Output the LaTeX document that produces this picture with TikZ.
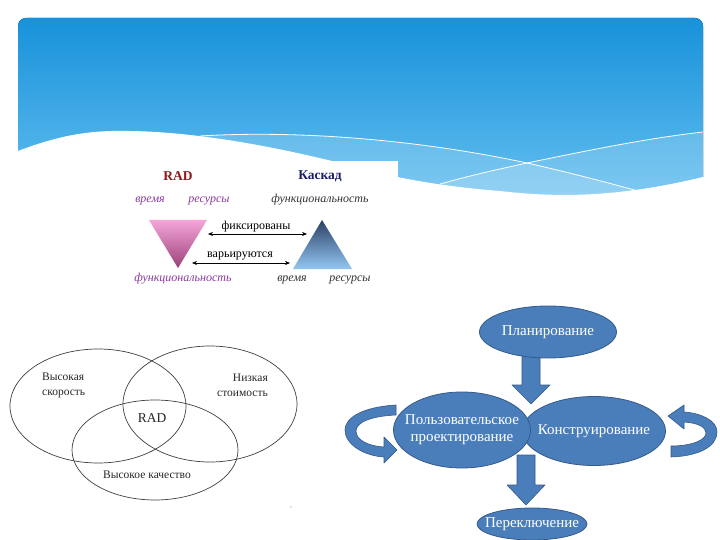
\documentclass[tikz,border=0pt]{standalone}
\usepackage{fontspec}
\setmainfont{Liberation Serif}
\usetikzlibrary{arrows.meta,shapes.geometric}
\definecolor{bantop}{HTML}{1892DA}
\definecolor{banbot}{HTML}{66C0F0}
\definecolor{nodeblue}{HTML}{4A7EBB}
\definecolor{nodeline}{HTML}{34598A}
\definecolor{radred}{HTML}{8B1A1A}
\definecolor{kasblue}{HTML}{1C1C6B}
\definecolor{purp}{HTML}{8A3A9E}
\definecolor{pinktop}{HTML}{F4A6D8}
\definecolor{pinkbot}{HTML}{9C4079}
\definecolor{bluetop}{HTML}{2D4166}
\definecolor{bluebot}{HTML}{92C6F2}
\definecolor{vennline}{HTML}{404040}
\tikzset{
  radtitle/.style={font=\bfseries\fontsize{13.5}{15}\selectfont},
  ital/.style={font=\itshape\fontsize{12}{13}\selectfont, inner sep=0pt},
  lbl/.style={font=\fontsize{12}{13}\selectfont, inner sep=0pt},
  dblarr/.style={{Stealth[length=5pt,width=4pt]}-{Stealth[length=5pt,width=4pt]}, line width=0.7pt},
  vennell/.style={ellipse, draw=vennline, line width=0.7pt, inner sep=0pt},
  venntxt/.style={font=\fontsize{11.5}{15}\selectfont, text=black!85, align=center, inner sep=0pt},
  bubble/.style={ellipse, draw=nodeline, fill=nodeblue, line width=0.8pt, inner sep=0pt},
  btext/.style={text=white, font=\fontsize{15}{17}\selectfont, align=center, inner sep=0pt},
  blockarrow/.style={fill=nodeblue, draw=nodeline, line width=0.6pt, line join=round},
}
\begin{document}
\begin{tikzpicture}[x=1pt,y=-1pt]
\useasboundingbox (0,0) rectangle (720,540);
\fill[white] (0,0) rectangle (720,540);
% banner
\fill[top color=bantop, bottom color=banbot, rounded corners=8pt] (18,18) rectangle (703,205);
\begin{scope}
  \clip (18,18) rectangle (703,205);
  \fill[white, opacity=0.17] (200,136) .. controls (300,130) and (420,140) .. (527,163)
     .. controls (580,175) and (620,186) .. (645,193) -- (645,260) -- (200,260) -- cycle;
  \fill[white, opacity=0.17] (440,184) .. controls (480,173) and (500,169) .. (527,163)
     .. controls (600,148) and (650,138) .. (703,132) -- (703,260) -- (440,260) -- cycle;
  \draw[white, line width=0.8pt] (200,136) .. controls (300,130) and (420,140) .. (527,163)
     .. controls (580,175) and (620,186) .. (645,193);
  \draw[white, line width=0.8pt] (440,184) .. controls (480,173) and (500,169) .. (527,163)
     .. controls (600,148) and (650,138) .. (703,132);
\end{scope}
\fill[white] (0,151) -- (18,151) .. controls (60,135) and (90,130) .. (130,131)
   .. controls (200,132) and (280,148) .. (340,163)
   .. controls (400,180) and (450,187) .. (500,191)
   .. controls (560,198) and (620,197) .. (703,177) -- (720,177) -- (720,215) -- (0,215) -- cycle;
% RAD vs cascade picture
\fill[white] (120,161) rectangle (398,300);
\node[radtitle, text=radred] (rad) at (178,176) {RAD};
\node[radtitle, text=kasblue] (kas) at (320,176) {Каскад};
\node[ital, text=purp] (t1) at (150,201) {время};
\node[ital, text=purp] (t2) at (209,201) {ресурсы};
\node[ital, text=black!80] (t3) at (320,200) {функциональность};
\shade[top color=pinktop, bottom color=pinkbot] (149,220) -- (207,220) -- (178,268) -- cycle;
\shade[top color=bluetop, bottom color=bluebot] (322,220) -- (352,269) -- (293,269) -- cycle;
\coordinate (f1) at (208,234);
\coordinate (f2) at (307,234);
\coordinate (v1) at (192,263);
\coordinate (v2) at (290,263);
\draw[dblarr] (f1) -- (f2);
\draw[dblarr] (v1) -- (v2);
\node[lbl] (fix) at (256,227) {фиксированы};
\node[lbl] (var) at (240,256) {варьируются};
\node[ital, text=purp] (b1) at (183,279) {функциональность};
\node[ital, text=black!80] (b2) at (292,280) {время};
\node[ital, text=black!80] (b3) at (350,280) {ресурсы};
% Venn diagram
\node[vennell, minimum width=176, minimum height=114] (e1) at (98,406) {};
\node[vennell, minimum width=174, minimum height=116] (e2) at (210,404) {};
\node[vennell, minimum width=166, minimum height=100] (e3) at (155,450) {};
\node[venntxt, align=left, anchor=west] (hs) at (42,385) {Высокая\\скорость};
\node[venntxt, align=right, anchor=east] (lc) at (268,385) {Низкая\\стоимость};
\node[venntxt, font=\fontsize{13.5}{15}\selectfont] (vr) at (152,418) {RAD};
\node[venntxt] (hq) at (147,475) {Высокое качество};
\node[circle, fill=gray!45, inner sep=0.6pt] (dot) at (291,507) {};
% right diagram: block arrows
\draw[blockarrow] (522,352) -- (540,352) -- (540,385) -- (550,385) -- (531,404) -- (512,385) -- (522,385) -- cycle;
\draw[blockarrow] (517,455) -- (535,455) -- (535,485) -- (545,485) -- (526,505) -- (507,485) -- (517,485) -- cycle;
\node[bubble, minimum width=137, minimum height=52, label={[btext]center:Планирование}] (plan) at (548,332) {};
\node[bubble, minimum width=143, minimum height=69, label={[btext]center:Конструирование}] (kons) at (594,431) {};
\node[bubble, minimum width=137, minimum height=76, label={[btext]center:Пользовательское\\проектирование}] (user) at (462,430) {};
\node[bubble, minimum width=110, minimum height=32, label={[btext]center:Переключение}] (pere) at (532,524) {};
% curved arrows
\draw[blockarrow] (396,405) .. controls (362,407) and (345,418) .. (345,430)
   .. controls (345,445) and (365,456) .. (384,457) -- (384,463) -- (397,450) -- (384,437) -- (384,447)
   .. controls (368,446) and (356,440) .. (356,431) .. controls (356,422) and (372,416) .. (396,415) -- cycle;
\draw[blockarrow] (671,457) .. controls (700,456) and (717,446) .. (717,432)
   .. controls (717,420) and (700,413) .. (684,412) -- (684,405) -- (668,416) -- (684,429) -- (684,422)
   .. controls (698,423) and (706,427) .. (706,433) .. controls (706,440) and (692,446) .. (671,446) -- cycle;
\end{tikzpicture}
\end{document}
